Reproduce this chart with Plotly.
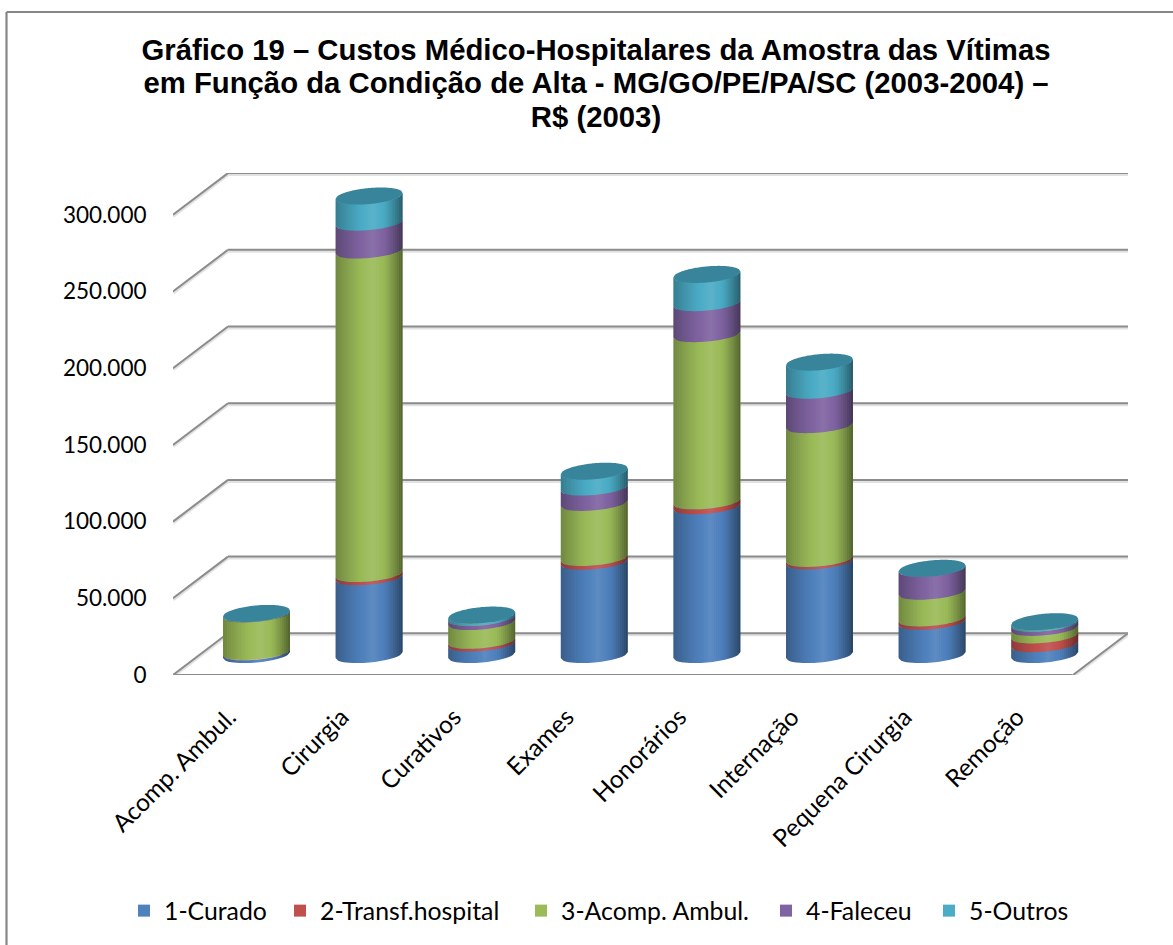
import plotly.graph_objects as go

categories = ["Acomp. Ambul.", "Cirurgia", "Curativos", "Exames", "Honorários", "Internação", "Pequena Cirurgia", "Remoção"]
curado  = [1500, 50500, 7200, 60600, 96700, 60800, 21400, 6800]
transf  = [200, 2000, 1800, 2400, 3200, 1600, 2200, 5700]
acomp   = [24500, 210900, 12200, 35900, 109000, 87200, 17400, 4900]
faleceu = [300, 18200, 2800, 10000, 20200, 22400, 15000, 2800]
outros  = [600, 17600, 2000, 10900, 19000, 18900, 500, 1500]
series_names = ["1-Curado", "2-Transf.hospital", "3-Acomp. Ambul.", "4-Faleceu", "5-Outros"]
series_values = [curado, transf, acomp, faleceu, outros]
series_colors = ["#4F81BD", "#C0504D", "#9BBB59", "#8064A2", "#4BACC6"]
lid_color = "#37849B"
grid_color = "#8C8C8C"
y_ticks = [0, 50000, 100000, 150000, 200000, 250000, 300000]
legend_text_x = [164, 320, 561, 806, 969]

W, H = 1173, 945
PX_PER_CAT = 112.6
PX_PER_50K = 76.7
UNIT = 50000 / PX_PER_50K          # value units per pixel
FRONT_X0 = 229.0                   # px of first category on the front plane
PLOT_L, PLOT_R, PLOT_T, PLOT_B = 173.0, 1128.0, 173.0, 675.0
DEPTH_X, DEPTH_Y = 55.0, 41.7      # floor depth, px
BAR_DX, BAR_DY = 27.5, 20.0        # bars stand half way back
A, SKEW, B_BASE, B_MID, B_LID = 33.5, 3.0, 7.5, 7.0, 8.0

x0_unit = (PLOT_L - FRONT_X0) / PX_PER_CAT
x1_unit = (PLOT_R - FRONT_X0) / PX_PER_CAT
y_top = (PLOT_B - PLOT_T) * UNIT
dxu = lambda px: px / PX_PER_CAT
dyu = lambda px: px * UNIT
y_off = dyu(BAR_DY)

fig = go.Figure()
shapes = []


def line(x0, y0, x1, y1):
    for col, w, d in (("#E2E2E2", 3.6, 1.2), (grid_color, 2.0, 0)):
        shapes.append(dict(type="line", xref="x", yref="y", layer="below",
                           x0=x0, y0=y0 - dyu(d), x1=x1, y1=y1 - dyu(d),
                           line=dict(color=col, width=w)))


left = x0_unit
right = x1_unit
for t in y_ticks:
    line(left, t, left + dxu(DEPTH_X), t + dyu(DEPTH_Y))
    line(left + dxu(DEPTH_X), t + dyu(DEPTH_Y), right, t + dyu(DEPTH_Y))
line(left, 0, right - dxu(DEPTH_X), 0)
line(right - dxu(DEPTH_X), 0, right, dyu(DEPTH_Y))

NPTS = 24
STRIP = 2.0


def front_dy(u, b):
    return -SKEW * u + b * (max(0.0, 1 - u * u)) ** 0.5


def shade(u):
    if u < -0.2:
        return "black", 0.28 * ((-0.2 - u) / 0.8) ** 1.2
    if u > 0.4:
        return "black", 0.48 * ((u - 0.4) / 0.6) ** 1.3
    return "white", 0.09 * (1 - abs(u - 0.1) / 0.3)


cyl_shapes = []
for s, (name, vals, col) in enumerate(zip(series_names, series_values, series_colors)):
    bases = [sum(series_values[k][i] for k in range(s)) + y_off for i in range(len(categories))]
    fig.add_trace(go.Bar(
        x=[i + dxu(BAR_DX) for i in range(len(categories))], y=vals, base=bases,
        width=dxu(60), name=name, marker=dict(color=col, line=dict(width=0)),
        legend="legend" if s == 0 else f"legend{s + 1}", hoverinfo="skip"))

for i in range(len(categories)):
    xc = i + dxu(BAR_DX)
    cum = y_off
    for s, vals in enumerate(series_values):
        lo, hi = cum, cum + vals[i]
        cum = hi
        us = [-1 + 2 * k / NPTS for k in range(NPTS + 1)]
        b_lo = B_BASE if s == 0 else B_MID
        b_hi = B_LID if s == len(series_values) - 1 else B_MID
        pts = [(xc + dxu(A * u), lo - dyu(front_dy(u, b_lo))) for u in us]
        pts += [(xc + dxu(A * u), hi - dyu(front_dy(u, b_hi))) for u in reversed(us)]
        path = "M" + " L".join(f"{x:.5f},{y:.1f}" for x, y in pts) + " Z"
        cyl_shapes.append(dict(type="path", xref="x", yref="y", path=path, layer="above",
                               fillcolor=series_colors[s], line=dict(width=0)))
    n = int(2 * A / STRIP)
    for k in range(n):
        u0 = -1 + 2 * k / n
        u1 = -1 + 2 * (k + 1) / n
        col, al = shade((u0 + u1) / 2)
        if al <= 0.005:
            continue
        pts = [(xc + dxu(A * u0), y_off - dyu(front_dy(u0, B_BASE))),
               (xc + dxu(A * u1), y_off - dyu(front_dy(u1, B_BASE))),
               (xc + dxu(A * u1), cum - dyu(front_dy(u1, B_LID))),
               (xc + dxu(A * u0), cum - dyu(front_dy(u0, B_LID)))]
        path = "M" + " L".join(f"{x:.5f},{y:.1f}" for x, y in pts) + " Z"
        cyl_shapes.append(dict(type="path", xref="x", yref="y", path=path, layer="above",
                               fillcolor=col, opacity=al, line=dict(width=0)))
    us = [-1 + 2 * k / (2 * NPTS) for k in range(2 * NPTS + 1)]
    pts = [(xc + dxu(A * u), cum - dyu(front_dy(u, B_LID))) for u in us]
    pts += [(xc + dxu(A * u), cum - dyu(-SKEW * u - B_LID * max(0.0, 1 - u * u) ** 0.5)) for u in reversed(us)]
    path = "M" + " L".join(f"{x:.5f},{y:.1f}" for x, y in pts) + " Z"
    cyl_shapes.append(dict(type="path", xref="x", yref="y", path=path, layer="above",
                           fillcolor=lid_color, line=dict(width=0)))

frame = dict(color="#868686", width=2.2)
shapes.append(dict(type="line", xref="paper", yref="paper", x0=6.5 / W, x1=1, y0=1 - 12 / H, y1=1 - 12 / H, line=frame))
shapes.append(dict(type="line", xref="paper", yref="paper", x0=6.5 / W, x1=6.5 / W, y0=0, y1=1 - 12 / H, line=frame))

FONT = "Lato, Carlito, sans-serif"
legend_common = dict(orientation="h", yanchor="middle", xanchor="left", y=1 - 911 / H,
                     bgcolor="rgba(0,0,0,0)", font=dict(family=FONT, size=24.8, color="#000"),
                     itemclick=False, itemdoubleclick=False, borderwidth=0)
legends = {}
for s, tx in enumerate(legend_text_x):
    legends["legend" if s == 0 else f"legend{s + 1}"] = dict(legend_common, x=(tx - 40) / W)

fig.update_layout(
    width=W, height=H, margin=dict(l=0, r=0, t=0, b=0, autoexpand=False),
    paper_bgcolor="white", plot_bgcolor="rgba(0,0,0,0)",
    separators=",.", barmode="overlay", showlegend=True,
    title=dict(text="<span style='font-size:29.3px'><b>Gráfico 19 – Custos Médico-Hospitalares da Amostra das Vítimas<br>"
                    "em Função da Condição de Alta - MG/GO/PE/PA/SC (2003-2004) –<br>R$ (2003)</b></span>",
               x=596 / W, xanchor="center", y=1 - 60 / H, yanchor="top",
               font=dict(family="Liberation Sans, Arial, sans-serif", size=25.7, color="#000")),
    xaxis=dict(domain=[PLOT_L / W, PLOT_R / W], range=[x0_unit, x1_unit],
               tickmode="array", tickvals=list(range(len(categories))), ticktext=categories,
               tickangle=-45, tickfont=dict(family=FONT, size=24.5, color="#000"),
               ticks="outside", ticklen=17, tickcolor="rgba(0,0,0,0)", showgrid=False,
               zeroline=False, showline=False, anchor="y"),
    yaxis=dict(domain=[1 - PLOT_B / H, 1 - PLOT_T / H], range=[0, y_top],
               tickmode="array", tickvals=y_ticks, tickformat=",d",
               tickfont=dict(family=FONT, size=22.5, color="#000"),
               ticks="outside", ticklen=21, tickcolor="rgba(0,0,0,0)", showgrid=False,
               zeroline=False, showline=False, anchor="x"),
    shapes=shapes + cyl_shapes,
    **legends)

fig.write_html("out.html", config={"displayModeBar": False},
               post_script="document.body.style.margin='0';document.body.style.overflow='hidden';")
